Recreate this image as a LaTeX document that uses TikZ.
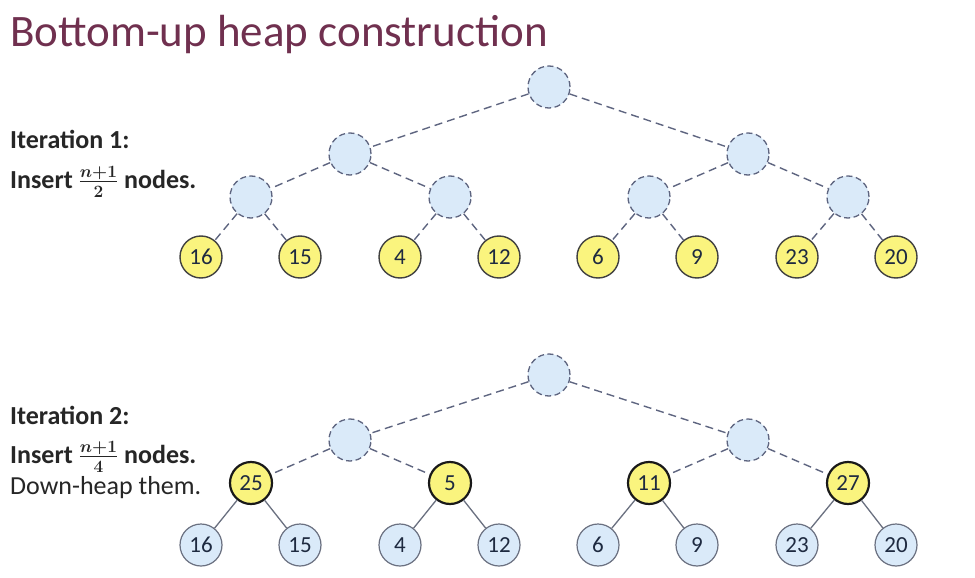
\documentclass[tikz,border=0pt]{standalone}
\usepackage{fontspec}
\setmainfont{Carlito}
\usepackage{amsmath}
\newcommand{\myfrac}[2]{\mbox{\fontsize{27}{30}\selectfont\boldmath$\frac{#1}{#2}$}}
\begin{document}
\begin{tikzpicture}[x=1pt,y=-1pt,
  emptynode/.style={circle,minimum size=42pt,inner sep=0pt,fill=nodeblue,draw=dashgray,line width=1.3pt,dash pattern=on 6pt off 3.5pt},
  newnode/.style={circle,minimum size=42pt,inner sep=0pt,fill=nodeyellow,draw=black!75,line width=1.4pt,font=\fontsize{23}{24}\selectfont,text=textdark},
  heapnode/.style={newnode,draw=black!90,line width=2.2pt},
  leafnode/.style={circle,minimum size=42pt,inner sep=0pt,fill=nodeblue,draw=solidgray,line width=1.2pt,font=\fontsize{23}{24}\selectfont,text=textdark},
  dedge/.style={draw=dashgray,line width=1.4pt,dash pattern=on 8pt off 5pt},
  sedge/.style={draw=solidgray,line width=1.3pt},
  lbl/.style={anchor=base west,inner sep=0pt,font=\fontsize{26}{28}\selectfont,text=black!85}
]
\definecolor{nodeblue}{HTML}{DAEAF9}
\definecolor{nodeyellow}{HTML}{FAF47E}
\definecolor{dashgray}{HTML}{5E6580}
\definecolor{solidgray}{HTML}{6A7080}
\definecolor{textdark}{HTML}{1E2A40}
\definecolor{titlecol}{HTML}{70304F}
\useasboundingbox (0,0) rectangle (975,578);
\fill[white] (0,0) rectangle (975,578);

\node[anchor=base west,inner sep=0pt,font=\fontsize{45}{48}\selectfont,text=titlecol] (title) at (10,47) {Bottom-up heap construction};

\node[lbl] (it1) at (10,148) {\textbf{Iteration 1:}};
\node[lbl] (ins1) at (10,188) {\textbf{Insert} \myfrac{n+1}{2} \textbf{nodes.}};
\node[lbl] (it2) at (10,424) {\textbf{Iteration 2:}};
\node[lbl] (ins2) at (10,463) {\textbf{Insert} \myfrac{n+1}{4} \textbf{nodes.}};
\node[lbl] (dh) at (10,494) {Down-heap them.};

% Tree 1
\node[emptynode] (a) at (549,87) {};
\node[emptynode] (b1) at (350,154) {};
\node[emptynode] (b2) at (748,154) {};
\node[emptynode] (c1) at (251,197) {};
\node[emptynode] (c2) at (450,197) {};
\node[emptynode] (c3) at (649,197) {};
\node[emptynode] (c4) at (848,197) {};
\node[newnode] (d1) at (201,257) {16};
\node[newnode] (d2) at (300,257) {15};
\node[newnode] (d3) at (400,257) {4};
\node[newnode] (d4) at (499,257) {12};
\node[newnode] (d5) at (598,257) {6};
\node[newnode] (d6) at (697,257) {9};
\node[newnode] (d7) at (797,257) {23};
\node[newnode] (d8) at (896,257) {20};
\path[dedge] (a) -- (b1) (a) -- (b2)
  (b1) -- (c1) (b1) -- (c2) (b2) -- (c3) (b2) -- (c4)
  (c1) -- (d1) (c1) -- (d2) (c2) -- (d3) (c2) -- (d4)
  (c3) -- (d5) (c3) -- (d6) (c4) -- (d7) (c4) -- (d8);

% Tree 2
\node[emptynode] (A) at (549,375) {};
\node[emptynode] (B1) at (350,440) {};
\node[emptynode] (B2) at (748,440) {};
\node[heapnode] (C1) at (251,483) {25};
\node[heapnode] (C2) at (450,483) {5};
\node[heapnode] (C3) at (649,483) {11};
\node[heapnode] (C4) at (848,483) {27};
\node[leafnode] (D1) at (201,545) {16};
\node[leafnode] (D2) at (300,545) {15};
\node[leafnode] (D3) at (400,545) {4};
\node[leafnode] (D4) at (499,545) {12};
\node[leafnode] (D5) at (598,545) {6};
\node[leafnode] (D6) at (697,545) {9};
\node[leafnode] (D7) at (797,545) {23};
\node[leafnode] (D8) at (896,545) {20};
\path[dedge] (A) -- (B1) (A) -- (B2)
  (B1) -- (C1) (B1) -- (C2) (B2) -- (C3) (B2) -- (C4);
\path[sedge] (C1) -- (D1) (C1) -- (D2) (C2) -- (D3) (C2) -- (D4)
  (C3) -- (D5) (C3) -- (D6) (C4) -- (D7) (C4) -- (D8);
\end{tikzpicture}
\end{document}
